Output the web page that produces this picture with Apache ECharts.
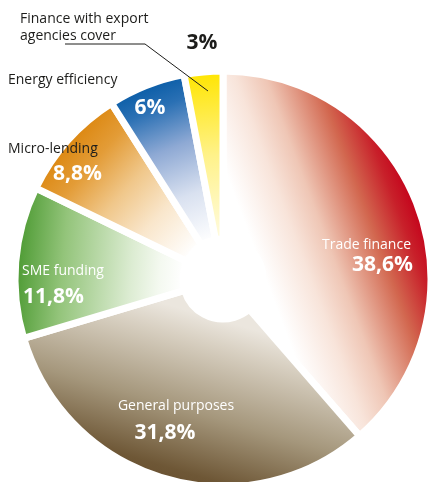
<!DOCTYPE html>
<html>
<head>
<meta charset="utf-8">
<script src="https://cdn.jsdelivr.net/npm/echarts@6/dist/echarts.min.js"></script>
<style>
  html, body { margin: 0; padding: 0; background: #ffffff; }
  #chart { width: 428px; height: 482px; }
</style>
</head>
<body>
<div id="chart"></div>
<script>
// Funding structure by purpose (share of total, %)
const categories = [
  'Trade finance',
  'General purposes',
  'SME funding',
  'Micro-lending',
  'Energy efficiency',
  'Finance with export agencies cover'
];
const shares = [38.6, 31.8, 11.8, 8.8, 6, 3];

// Gradient stops per slice: pale near the hub, saturated at the rim
const sliceStops = [
  [[0, '#ffffff'], [0.25, '#f8e4da'], [0.42, '#efc6b5'], [0.7, '#d2674f'], [0.88, '#c8202a'], [1, '#c4001a']],
  [[0, '#ebe6de'], [0.15, '#d9d1c3'], [0.57, '#a5977c'], [0.93, '#6e5736'], [1, '#6a5232']],
  [[0, '#ffffff'], [0.14, '#f4f9f0'], [0.31, '#dcecd2'], [0.72, '#93c47a'], [1, '#4c9a32']],
  [[0, '#ffffff'], [0.3, '#f9e6cb'], [0.55, '#f0c78a'], [0.8, '#e39c37'], [1, '#dc8710']],
  [[0, '#ffffff'], [0.3, '#d9e1f0'], [0.6, '#8ea9d4'], [0.85, '#2a70b4'], [1, '#0a5da7']],
  [[0, '#fffbe0'], [0.5, '#fff28a'], [1, '#ffe500']]
];

const CX = 223, CY = 279;     // pie centre in px
const R_OUT = 208, R_IN = 40;  // radii in px
const GAP = 7;                 // white separators between slices

const fmt = v => String(v).replace('.', ',') + '%';

// Linear gradient laid along each slice's bisector
const total = shares.reduce((a, b) => a + b, 0);
let acc = 0;
const data = shares.map((v, i) => {
  const mid = (acc + v / 2) / total * 2 * Math.PI; // clockwise from 12 o'clock
  acc += v;
  const dx = Math.sin(mid), dy = -Math.cos(mid);
  return {
    name: categories[i],
    value: v,
    itemStyle: {
      color: {
        type: 'linear', global: true,
        x: CX + dx * R_IN, y: CY + dy * R_IN,
        x2: CX + dx * R_OUT, y2: CY + dy * R_OUT,
        colorStops: sliceStops[i].map(s => ({ offset: s[0], color: s[1] }))
      }
    }
  };
});

const FONT = '"Open Sans", "Noto Sans", sans-serif';
const dark = '#1d1d1b';
const nameStyle = (fill, align) => ({ font: '14px ' + FONT, fill, align: align || 'left', verticalAlign: 'middle' });
const valStyle = (fill, align) => ({ font: 'bold 21px ' + FONT, fill, align: align || 'left', verticalAlign: 'middle' });

const txt = (x, y, text, style) => ({ type: 'text', x, y, silent: true, z: 10, style: Object.assign({ text }, style) });

const chart = echarts.init(document.getElementById('chart'), null, { renderer: 'canvas' });
chart.setOption({
  animation: false,
  backgroundColor: '#ffffff',
  series: [{
    type: 'pie',
    center: [CX, CY],
    radius: [R_IN, R_OUT],
    startAngle: 90,
    clockwise: true,
    silent: true,
    label: { show: false },
    labelLine: { show: false },
    itemStyle: { borderColor: '#ffffff', borderWidth: GAP },
    data
  }],
  graphic: [
    // Finance with export agencies cover
    txt(20, 19, 'Finance with export', nameStyle(dark)),
    txt(20, 36, 'agencies cover', nameStyle(dark)),
    {
      type: 'polyline', silent: true, z: 10,
      shape: { points: [[65, 44], [145, 44], [208, 91]] },
      style: { stroke: '#1d1d1b', lineWidth: 1, fill: null }
    },
    txt(202, 43, fmt(shares[5]), valStyle(dark, 'center')),
    // Energy efficiency
    txt(8, 80, categories[4], nameStyle(dark)),
    txt(150, 108, fmt(shares[4]), valStyle('#ffffff', 'center')),
    // Micro-lending
    txt(8, 149, categories[3], nameStyle(dark)),
    txt(53, 174, fmt(shares[3]), valStyle('#ffffff')),
    // SME funding
    txt(22, 271, categories[2], nameStyle('#ffffff')),
    txt(23, 297, fmt(shares[2]), valStyle('#ffffff')),
    // Trade finance
    txt(411, 245, categories[0], nameStyle('#ffffff', 'right')),
    txt(413, 265, fmt(shares[0]), valStyle('#ffffff', 'right')),
    // General purposes
    txt(176, 406, categories[1], nameStyle('#ffffff', 'center')),
    txt(165, 433, fmt(shares[1]), valStyle('#ffffff', 'center'))
  ]
});
</script>
</body>
</html>
